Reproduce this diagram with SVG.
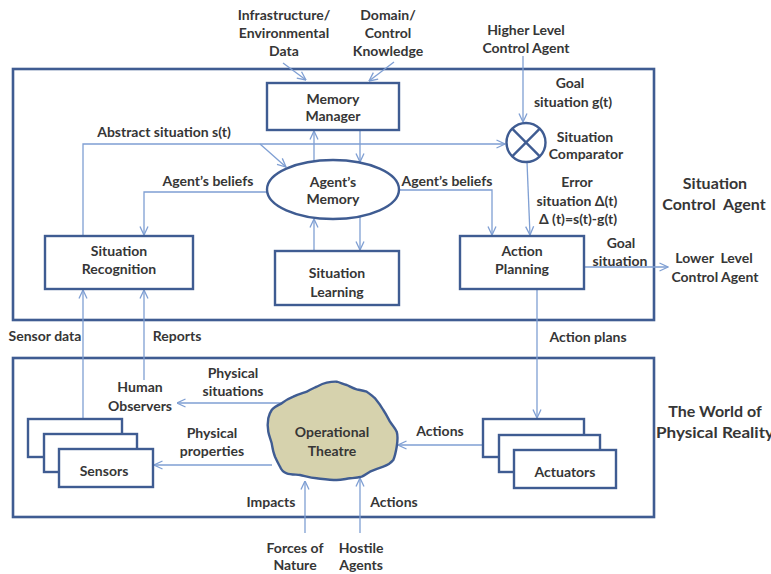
<svg xmlns="http://www.w3.org/2000/svg" width="771" height="574" viewBox="0 0 771 574">
  <style>
    .frame { fill: none; stroke: #3f5c92; stroke-width: 2.6; }
    .box { fill: #ffffff; stroke: #3f5c92; stroke-width: 2.4; }
    .conn { fill: none; stroke: #7f9fd3; stroke-width: 1.3; }
    text { font-family: "Lato", "Liberation Sans", sans-serif; font-weight: bold; font-size: 14px; fill: #363636; text-anchor: middle; }
    .title { font-size: 16px; }
    .pre { white-space: pre; }
  </style>
  <defs>
    <marker id="arrow" viewBox="0 0 10 10" refX="9.5" refY="5" markerWidth="10" markerHeight="10" markerUnits="userSpaceOnUse" orient="auto">
      <path d="M1,1 L9.5,5 L1,9" fill="none" stroke="#7f9fd3" stroke-width="1.3"/>
    </marker>
  </defs>

  <rect width="771" height="574" fill="#ffffff"/>

  <!-- layer frames -->
  <rect id="situation-control-agent" class="frame" x="13" y="69" width="641" height="251"/>
  <rect id="physical-reality" class="frame" x="13" y="358" width="641" height="159"/>

  <!-- connectors -->
  <g id="connectors" class="conn" marker-end="url(#arrow)">
    <line x1="283" y1="63" x2="306" y2="80"/>
    <line x1="394" y1="62" x2="369" y2="81"/>
    <line x1="523" y1="56" x2="523" y2="122"/>
    <polyline points="83,236 83,144 505,144"/>
    <line x1="260" y1="144" x2="286" y2="167"/>
    <line x1="314" y1="161" x2="314" y2="131"/>
    <line x1="360" y1="130" x2="360" y2="162"/>
    <line x1="314" y1="251" x2="314" y2="219"/>
    <line x1="360" y1="216" x2="360" y2="250"/>
    <polyline points="267,192 144,192 144,235"/>
    <polyline points="399,190 492,190 492,235"/>
    <line x1="527" y1="162" x2="530" y2="235"/>
    <line x1="584" y1="267" x2="668" y2="267"/>
    <line x1="537" y1="289" x2="537" y2="418"/>
    <line x1="83" y1="419" x2="83" y2="290"/>
    <line x1="144" y1="380" x2="144" y2="290"/>
    <line x1="281" y1="403" x2="177" y2="403"/>
    <line x1="272" y1="465" x2="154" y2="465"/>
    <line x1="483" y1="445" x2="398" y2="445"/>
    <line x1="305" y1="533" x2="305" y2="481"/>
    <line x1="360" y1="533" x2="360" y2="478"/>
  </g>

  <!-- nodes -->
  <g id="memory-manager">
    <rect class="box" x="267" y="83" width="132" height="47"/>
    <text x="333" y="104">Memory</text>
    <text x="333" y="121">Manager</text>
  </g>

  <g id="agents-memory">
    <ellipse class="box" cx="333" cy="189.5" rx="66" ry="29.5"/>
    <text x="333" y="187">Agent’s</text>
    <text x="333" y="204">Memory</text>
  </g>

  <g id="situation-learning">
    <rect class="box" x="275" y="251" width="124" height="54"/>
    <text x="337" y="278">Situation</text>
    <text x="337" y="297">Learning</text>
  </g>

  <g id="situation-recognition">
    <rect class="box" x="45" y="236" width="148" height="53"/>
    <text x="119" y="256">Situation</text>
    <text x="119" y="274">Recognition</text>
  </g>

  <g id="action-planning">
    <rect class="box" x="460" y="236" width="124" height="53"/>
    <text x="522" y="256">Action</text>
    <text x="522" y="274">Planning</text>
  </g>

  <g id="situation-comparator">
    <circle class="box" cx="526" cy="142.5" r="19.5"/>
    <line x1="512.2" y1="128.7" x2="539.8" y2="156.3" stroke="#3f5c92" stroke-width="2.4"/>
    <line x1="539.8" y1="128.7" x2="512.2" y2="156.3" stroke="#3f5c92" stroke-width="2.4"/>
    <text x="585" y="142">Situation</text>
    <text x="586" y="159">Comparator</text>
  </g>

  <g id="sensors">
    <rect class="box" x="28" y="419" width="94" height="38"/>
    <rect class="box" x="44" y="434" width="93" height="38"/>
    <rect class="box" x="59" y="449" width="94" height="38"/>
    <text x="104" y="476">Sensors</text>
  </g>

  <g id="actuators">
    <rect class="box" x="483" y="419" width="101" height="38"/>
    <rect class="box" x="499" y="435" width="101" height="37"/>
    <rect class="box" x="514" y="450" width="102" height="38"/>
    <text x="565" y="477">Actuators</text>
  </g>

  <g id="operational-theatre">
    <path d="M281.7,403.3 C286,400 290,398 293.3,396.7 C299,394 303,393 306.7,391.7 C311,389 314,388 316.7,386.7 C320,385 323,383.5 326.7,382.7 C330,382 333,381.5 336.7,381.7 C340,382.5 343,384 346.7,385 C350,386.5 353,388.5 356.7,389.3 C360,390 363,390.5 366.7,391.7 C370,393.5 372,396 375,398.3 C378,402 381,406 383.3,410 C386,414 388,418 390,421.7 C392,425 395,428 396.7,431.7 C398,436 397.5,442 396.7,446.7 C396,451 395,456 393.3,460 C390,464 387,465.5 383.3,466.7 C378,468.5 374,470 370,471.7 C367,473.5 365,475.5 361.7,476.7 C357,478 353,478 350,478.3 C345,479 341,480 336.7,480 C330,480 323,479 316.7,478.3 C310,477.5 305,476 300,475 C295,474.5 290,474.5 286.7,473.3 C283,472 281,469.5 280,466.7 C278,463 276.5,460 275,456.7 C273,452 272.5,448 271.7,443.3 C270.5,439 269,435.5 268.3,431.7 C267.5,427 267.5,422.5 268.3,418.3 C269,415 270,412.5 271.7,410 C274,407 278,405 281.7,403.3 Z" fill="#d6d2ad" stroke="#3f5c92" stroke-width="2.4"/>
    <text x="332" y="437">Operational</text>
    <text x="332" y="456">Theatre</text>
  </g>

  <!-- external sources and sinks -->
  <g id="infrastructure-data">
    <text x="284" y="20">Infrastructure/</text>
    <text x="284" y="38">Environmental</text>
    <text x="284" y="56">Data</text>
  </g>
  <g id="domain-knowledge">
    <text x="388" y="20">Domain/</text>
    <text x="388" y="38">Control</text>
    <text x="388" y="56">Knowledge</text>
  </g>
  <g id="higher-level-agent">
    <text x="526" y="35">Higher Level</text>
    <text x="526" y="53">Control Agent</text>
  </g>
  <g id="lower-level-agent">
    <text class="pre" x="714" y="263">Lower  Level</text>
    <text x="715" y="282">Control Agent</text>
  </g>
  <g id="forces-of-nature">
    <text x="295" y="553">Forces of</text>
    <text x="295" y="570">Nature</text>
  </g>
  <g id="hostile-agents">
    <text x="361" y="553">Hostile</text>
    <text x="361" y="570">Agents</text>
  </g>
  <g id="human-observers">
    <text x="140" y="392">Human</text>
    <text x="140" y="411">Observers</text>
  </g>

  <!-- connector labels -->
  <g id="labels">
    <text x="164" y="137">Abstract situation s(t)</text>
    <text x="208" y="186">Agent’s beliefs</text>
    <text x="447" y="186">Agent’s beliefs</text>
    <text x="570" y="88">Goal</text>
    <text x="573" y="107">situation g(t)</text>
    <text x="577" y="187">Error</text>
    <text x="577" y="206">situation Δ(t)</text>
    <text x="578" y="224">Δ (t)=s(t)-g(t)</text>
    <text x="621" y="248">Goal</text>
    <text x="620" y="266">situation</text>
    <text x="45" y="341">Sensor data</text>
    <text x="177" y="341">Reports</text>
    <text x="588" y="342">Action plans</text>
    <text x="233" y="378">Physical</text>
    <text x="233" y="396">situations</text>
    <text x="212" y="438">Physical</text>
    <text x="212" y="456">properties</text>
    <text x="440" y="436">Actions</text>
    <text x="271" y="507">Impacts</text>
    <text x="394" y="507">Actions</text>
  </g>

  <!-- layer titles -->
  <g id="layer-titles">
    <text class="title" x="715" y="189">Situation</text>
    <text class="title pre" x="714" y="210">Control  Agent</text>
    <text class="title" x="715" y="417">The World of</text>
    <text class="title" x="715" y="438" textLength="118" lengthAdjust="spacingAndGlyphs">Physical Reality</text>
  </g>
</svg>
